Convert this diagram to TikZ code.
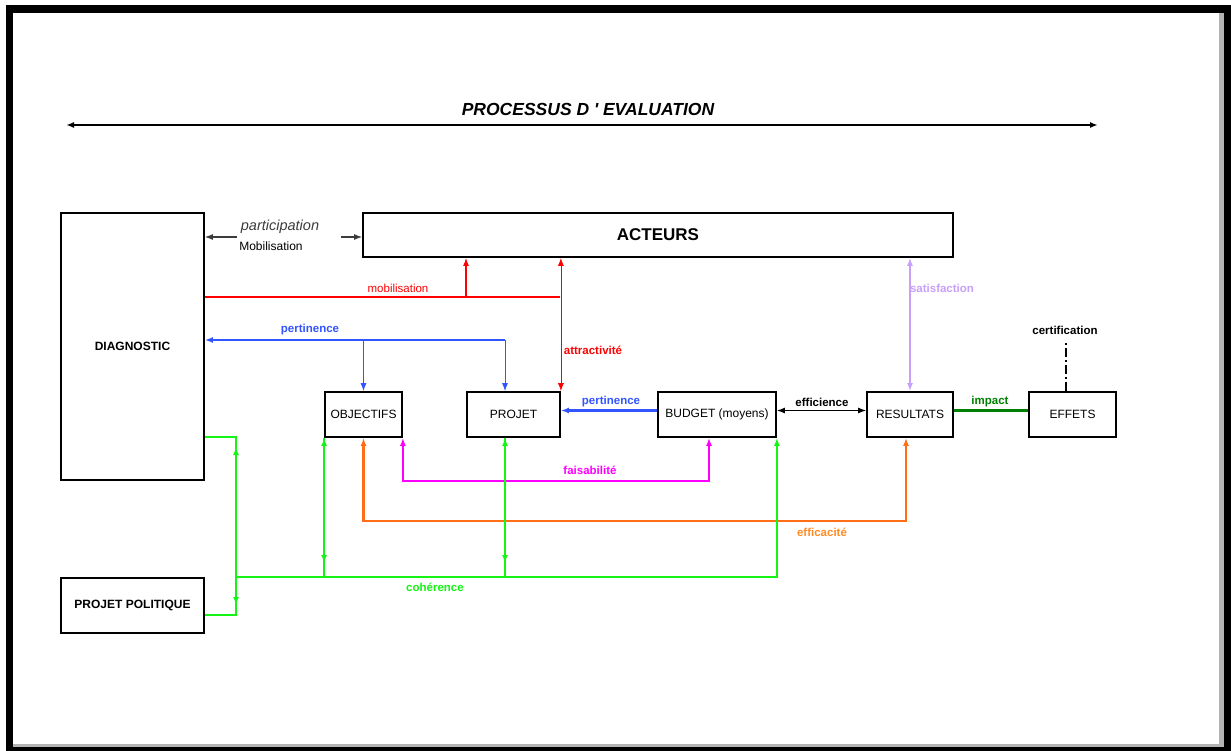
\documentclass[tikz,border=0pt]{standalone}
\usepackage{fontspec}
\setmainfont{Liberation Sans}[Ligatures=TeXOff]
\usetikzlibrary{arrows.meta}
\definecolor{rouge}{RGB}{255,0,0}
\definecolor{bleu}{RGB}{51,85,255}
\definecolor{lilas}{RGB}{200,160,250}
\definecolor{rose}{RGB}{255,0,255}
\definecolor{orangef}{RGB}{255,110,20}
\definecolor{orangel}{RGB}{255,140,40}
\definecolor{vertc}{RGB}{20,245,20}
\definecolor{vertf}{RGB}{0,128,0}
\definecolor{ombre}{RGB}{180,180,180}
\definecolor{grisf}{RGB}{60,60,60}

\begin{document}
\begin{tikzpicture}[x=1pt,y=-1pt,>={Latex[length=8pt,width=6pt]},
  bx/.style={draw,line width=1.8pt,inner sep=0pt,font=\fontsize{12}{14}\selectfont},
  lb/.style={font=\fontsize{11.5}{13}\selectfont\bfseries,inner sep=1pt},
  cn/.style={line width=1.2pt},
  coh/.style={vertc,line width=2pt}]
  \useasboundingbox (0,0) rectangle (1231,751);
  % cadre
  \fill[black] (6,5) rectangle (1231,751);
  \fill[white] (13,13) rectangle (1224,747);
  \fill[ombre] (1219,13) rectangle (1224,747);
  \fill[ombre] (13,744) rectangle (1224,747);
  % titre
  \node (titre) at (588,109) {\fontsize{17.5}{20}\selectfont\bfseries\itshape PROCESSUS D ' EVALUATION};
  \coordinate (pl) at (66,125);
  \coordinate (pr) at (1098,125);
  \draw[<->,line width=2.2pt] (pl) -- (pr);
  % boites
  \node[bx,minimum width=143pt,minimum height=267pt](diag) at (132.5,346.5){\bfseries DIAGNOSTIC};
  \node[bx,minimum width=590pt,minimum height=44pt](act) at (658,235){\fontsize{17}{20}\selectfont\bfseries ACTEURS};
  \node[bx,minimum width=77pt,minimum height=45pt](obj) at (363.5,414.5){OBJECTIFS};
  \node[bx,minimum width=93pt,minimum height=45pt](proj) at (513.5,414.5){PROJET};
  \node[bx,minimum width=118pt,minimum height=45pt](bud) at (717,414.5){BUDGET (moyens)};
  \node[bx,minimum width=86pt,minimum height=45pt](res) at (910,414.5){RESULTATS};
  \node[bx,minimum width=87pt,minimum height=45pt](eff) at (1072.5,414.5){EFFETS};
  \node[bx,minimum width=143pt,minimum height=55pt](pol) at (132.5,605.5){\bfseries PROJET POLITIQUE};
  % participation
  \coordinate (pg1) at (237,237);
  \coordinate (pg2) at (341,237);
  \draw[cn,<-,grisf] (diag.east |- pg1) -- (pg1);
  \draw[cn,->,grisf] (pg2) -- (act.west |- pg2);
  \node[grisf,font=\fontsize{14.5}{17}\selectfont\itshape] (lpart) at (280,227) {participation};
  \node[font=\fontsize{12}{14}\selectfont] (lmob) at (271,246) {Mobilisation};
  % mobilisation / attractivite
  \coordinate (mb1) at (466,297);
  \coordinate (mb2) at (560,297);
  \draw[rouge,line width=2pt] (diag.east |- mb1) -- (mb2);
  \draw[rouge,cn,->] (mb1) -- (mb1 |- act.south);
  \draw[rouge,line width=0.8pt,<->] (act.south -| proj.north east) -- (proj.north east);
  \node[lb,rouge,font=\fontsize{11.5}{13}\selectfont] (lmobi) at (398,288) {mobilisation};
  \node[lb,rouge] (lattr) at (593,350) {attractivité};
  % pertinence
  \coordinate (pt1) at (505,340);
  \draw[bleu,line width=2.4pt,->] (pt1) -- (diag.east |- pt1);
  \draw[bleu,line width=0.8pt,->] (obj.north |- pt1) -- (obj.north);
  \draw[bleu,line width=0.8pt,->] (pt1) -- (pt1 |- proj.north);
  \node[lb,bleu] (lpert) at (310,330) {pertinence};
  \draw[bleu,line width=3pt,->] ([yshift=4pt]bud.west) -- ([yshift=4pt]proj.east);
  \node[lb,bleu] (lpert2) at (611,402) {pertinence};
  % efficience, impact, certification
  \draw[cn,<->] ([yshift=4pt]bud.east) -- ([yshift=4pt]res.west);
  \node[lb] (leffi) at (822,402) {efficience};
  \draw[vertf,line width=3pt] ([yshift=4pt]res.east) -- ([yshift=4pt]eff.west);
  \node[lb,vertf] (limp) at (990,402) {impact};
  \coordinate (ct) at (1066,343);
  \draw[line width=1.6pt,dash pattern=on 9pt off 3pt on 2pt off 3pt] (eff.north -| ct) -- (ct);
  \node[lb] (lcert) at (1065,330) {certification};
  % satisfaction
  \draw[lilas,line width=2.5pt,<->] (act.south -| res.north) -- (res.north);
  \node[lb,lilas] (lsat) at (942,288) {satisfaction};
  % faisabilite
  \coordinate (fs) at (709,481);
  \draw[rose,line width=2pt,<->] (obj.south east) |- (fs) -- (fs |- bud.south);
  \node[lb,rose] (lfais) at (590,470) {faisabilité};
  % efficacite
  \coordinate (ef) at (906,521);
  \draw[orangef,line width=2.5pt,<->] (obj.south) |- (ef) -- (ef |- res.south);
  \node[lb,orangel] (leffa) at (822,532) {efficacité};
  % coherence
  \coordinate (ch1) at (236,437);
  \coordinate (ch2) at (236,615);
  \coordinate (ch3) at (776,577);
  \draw[coh] (diag.east |- ch1) -- (ch1) -- (ch2) -- (pol.east |- ch2);
  \draw[coh,<->,shorten <=10pt,shorten >=10pt] (ch1) -- (ch2);
  \draw[coh,->] (ch1 |- ch3) -| (bud.south east);
  \draw[coh] (obj.south west) -- (obj.south west |- ch3);
  \draw[coh,<->,shorten >=14pt] (obj.south west) -- (obj.south west |- ch3);
  \draw[coh] (pt1 |- proj.south) -- (pt1 |- ch3);
  \draw[coh,<->,shorten >=14pt] (pt1 |- proj.south) -- (pt1 |- ch3);
  \node[lb,vertc] (lcoh) at (435,587) {cohérence};
\end{tikzpicture}
\end{document}
